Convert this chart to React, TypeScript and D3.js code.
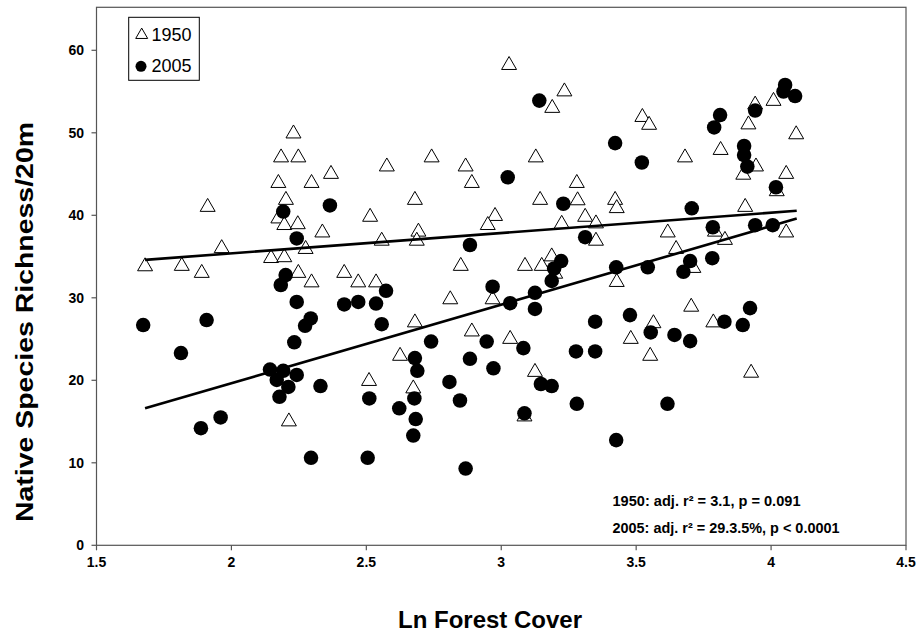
import React from "react";
import * as d3 from "d3";

// ---- data ----
const xTicks = [1.5, 2, 2.5, 3, 3.5, 4, 4.5];
const xTickLabels = ["1.5", "2", "2.5", "3", "3.5", "4", "4.5"];
const yTicks = [0, 10, 20, 30, 40, 50, 60];
const yTickLabels = ["0", "10", "20", "30", "40", "50", "60"];

const x1950 = [2.184, 2.248, 2.23, 2.174, 2.297, 1.912, 2.202, 2.174, 2.196, 2.246, 2.337, 1.964, 2.275, 1.68, 1.816, 1.89, 2.147, 2.196, 2.248, 2.297, 2.213, 2.369, 2.576, 2.742, 2.868, 2.891, 2.68, 2.514, 2.977, 2.95, 2.557, 2.693, 2.687, 2.85, 2.418, 2.47, 2.536, 2.811, 2.968, 2.68, 2.891, 2.625, 2.51, 2.674, 3.029, 3.234, 3.189, 3.523, 3.548, 3.128, 3.28, 3.144, 3.283, 3.422, 3.428, 3.224, 3.311, 3.351, 3.351, 3.617, 3.648, 3.088, 3.15, 3.187, 3.2, 3.428, 3.564, 3.48, 3.552, 3.033, 3.125, 3.086, 3.941, 4.009, 3.916, 4.093, 3.681, 3.813, 3.944, 3.897, 4.056, 4.021, 3.904, 3.792, 4.056, 3.829, 3.712, 3.704, 3.786, 3.926];
const y1950 = [47.0, 47.0, 49.9, 43.9, 43.9, 41.0, 41.85, 39.6, 38.8, 38.9, 37.9, 36.0, 35.9, 33.8, 33.85, 33.0, 34.8, 34.9, 33.0, 31.85, 15.0, 45.0, 45.9, 47.0, 45.9, 43.9, 41.85, 39.8, 39.9, 38.8, 36.9, 38.0, 36.9, 33.85, 33.0, 31.85, 31.85, 29.8, 29.8, 27.0, 25.9, 22.95, 19.9, 19.0, 58.2, 55.0, 53.0, 51.9, 50.95, 47.0, 43.9, 41.85, 41.8, 41.85, 40.85, 38.95, 39.8, 39.0, 36.9, 37.9, 35.9, 33.85, 33.85, 35.0, 32.9, 31.9, 26.9, 25.0, 22.95, 25.0, 21.0, 15.6, 53.4, 53.85, 51.0, 49.8, 47.0, 47.9, 45.9, 44.9, 45.0, 42.9, 41.0, 38.0, 37.9, 37.0, 33.6, 28.9, 27.0, 20.9];

const x2005 = [2.192, 2.242, 2.201, 2.183, 2.242, 1.673, 1.908, 2.294, 2.273, 2.233, 1.813, 2.143, 2.192, 2.242, 2.168, 2.211, 2.178, 2.33, 1.96, 1.887, 2.295, 2.365, 2.884, 2.968, 2.573, 2.418, 2.47, 2.536, 2.557, 2.74, 2.946, 2.68, 2.689, 2.884, 2.971, 2.511, 2.678, 2.622, 2.683, 2.674, 2.808, 2.847, 2.505, 2.868, 3.141, 3.422, 3.521, 3.024, 3.23, 3.311, 3.222, 3.196, 3.187, 3.426, 3.543, 3.033, 3.125, 3.125, 3.348, 3.477, 3.554, 3.642, 3.082, 3.277, 3.348, 3.147, 3.187, 3.28, 3.616, 3.086, 3.426, 4.052, 4.046, 4.089, 3.941, 3.811, 3.789, 3.9, 3.9, 3.912, 4.018, 3.706, 3.784, 3.941, 4.006, 3.7, 3.675, 3.782, 3.827, 3.895, 3.922, 3.7];
const y2005 = [40.45, 37.2, 32.75, 31.55, 29.5, 26.7, 27.3, 27.5, 26.6, 24.6, 23.3, 21.3, 21.15, 20.65, 20.05, 19.2, 18.0, 19.3, 15.5, 14.2, 10.6, 41.2, 36.4, 31.35, 30.85, 29.2, 29.5, 29.3, 26.8, 24.7, 24.7, 22.7, 21.15, 22.6, 21.45, 17.8, 17.8, 16.6, 15.3, 13.3, 19.8, 17.55, 10.6, 9.3, 53.9, 48.75, 46.4, 44.6, 41.4, 37.35, 34.45, 33.55, 32.05, 33.7, 33.7, 29.35, 30.6, 28.65, 27.1, 27.9, 25.8, 25.5, 23.9, 23.5, 23.5, 19.55, 19.3, 17.15, 17.15, 16.0, 12.75, 55.8, 55.0, 54.45, 52.7, 52.15, 50.65, 48.4, 47.3, 45.9, 43.4, 40.85, 38.55, 38.8, 38.8, 34.45, 33.15, 34.8, 27.1, 26.7, 28.75, 24.75];

// fitted regression lines (end points)
const fitX = [1.68, 4.095];
const fit1950Y = [34.6, 40.55];
const fit2005Y = [16.6, 39.6];

const legendLabels = ["1950", "2005"];
const statLines = ["1950: adj. r² = 3.1, p = 0.091", "2005: adj. r² = 29.3.5%, p < 0.0001"];
const xTitle = "Ln Forest Cover";
const yTitle = "Native Species Richness/20m";

export default function App() {
  const W = 919, H = 637;
  const left = 96.5, right = 906, top = 7.3, bottom = 545.3;
  const x = d3.scaleLinear().domain([1.5, 4.5]).range([left, right]);
  const y = d3.scaleLinear().domain([0, 65.212]).range([bottom, top]);
  const tri = d3.symbol().type(d3.symbolTriangle).size(97)();
  const triLegend = d3.symbol().type(d3.symbolTriangle).size(62)();
  const circ = d3.symbol().type(d3.symbolCircle).size(166)();
  const circLegend = d3.symbol().type(d3.symbolCircle).size(95)();
  const line = d3.line<number>().x((_, i) => x(fitX[i])).y((d) => y(d));
  const axisColor = "#555";
  const font = "Arial, 'Liberation Sans', sans-serif";
  const narrow = "'Liberation Sans Narrow', 'Arial Narrow', Arial, 'Liberation Sans', sans-serif";

  return (
    <svg width={W} height={H} style={{ position: "absolute", left: 0, top: 0, background: "#fff" }}>
      <rect x={0} y={0} width={W} height={H} fill="#fff" />
      {/* frame */}
      <rect x={left} y={top} width={right - left} height={bottom - top} fill="none" stroke={axisColor} strokeWidth={1.2} />
      {/* x ticks */}
      {xTicks.map((t, i) => (
        <g key={"xt" + i}>
          <line x1={x(t)} x2={x(t)} y1={bottom} y2={bottom + 5} stroke={axisColor} strokeWidth={1.2} />
          <text x={x(t)} y={566.5} textAnchor="middle" fontFamily={font} fontWeight="bold" fontSize={14} fill="#000">
            {xTickLabels[i]}
          </text>
        </g>
      ))}
      {/* y ticks */}
      {yTicks.map((t, i) => (
        <g key={"yt" + i}>
          <line x1={left - 5} x2={left} y1={y(t)} y2={y(t)} stroke={axisColor} strokeWidth={1.2} />
          <text x={84} y={y(t) + 5} textAnchor="end" fontFamily={font} fontWeight="bold" fontSize={14} fill="#000">
            {yTickLabels[i]}
          </text>
        </g>
      ))}
      {/* 1950 triangles */}
      {x1950.map((v, i) => (
        <path key={"a" + i} d={tri} transform={`translate(${x(v)},${y(y1950[i])})`} fill="#fff" stroke="#000" strokeWidth={1} />
      ))}
      {/* 2005 circles */}
      {x2005.map((v, i) => (
        <path key={"b" + i} d={circ} transform={`translate(${x(v)},${y(y2005[i])})`} fill="#000" />
      ))}
      {/* regression lines */}
      <path d={line(fit1950Y) || ""} fill="none" stroke="#000" strokeWidth={2.6} />
      <path d={line(fit2005Y) || ""} fill="none" stroke="#000" strokeWidth={2.6} />
      {/* legend */}
      <rect x={128.7} y={17.3} width={70.6} height={63} fill="#fff" stroke="#000" strokeWidth={1} />
      <path d={triLegend} transform="translate(141.7,35)" fill="#fff" stroke="#000" strokeWidth={1} />
      <text x={151.5} y={41} fontFamily={font} fontSize={18} fill="#000">{legendLabels[0]}</text>
      <path d={circLegend} transform="translate(141,66.3)" fill="#000" />
      <text x={151.5} y={72} fontFamily={font} fontSize={18} fill="#000">{legendLabels[1]}</text>
      {/* stats */}
      <text x={612.5} y={506} fontFamily={narrow} fontWeight="bold" fontSize={14} textLength={188} lengthAdjust="spacingAndGlyphs" fill="#000">{statLines[0]}</text>
      <text x={612.5} y={533} fontFamily={narrow} fontWeight="bold" fontSize={14} textLength={227} lengthAdjust="spacingAndGlyphs" fill="#000">{statLines[1]}</text>
      {/* titles */}
      <text x={490} y={628} textAnchor="middle" fontFamily={font} fontWeight="bold" fontSize={24} fill="#000">{xTitle}</text>
      <text transform="translate(33,322) rotate(-90)" textAnchor="middle" fontFamily={font} fontWeight="bold" fontSize={23} textLength={400} lengthAdjust="spacingAndGlyphs" fill="#000">{yTitle}</text>
    </svg>
  );
}
